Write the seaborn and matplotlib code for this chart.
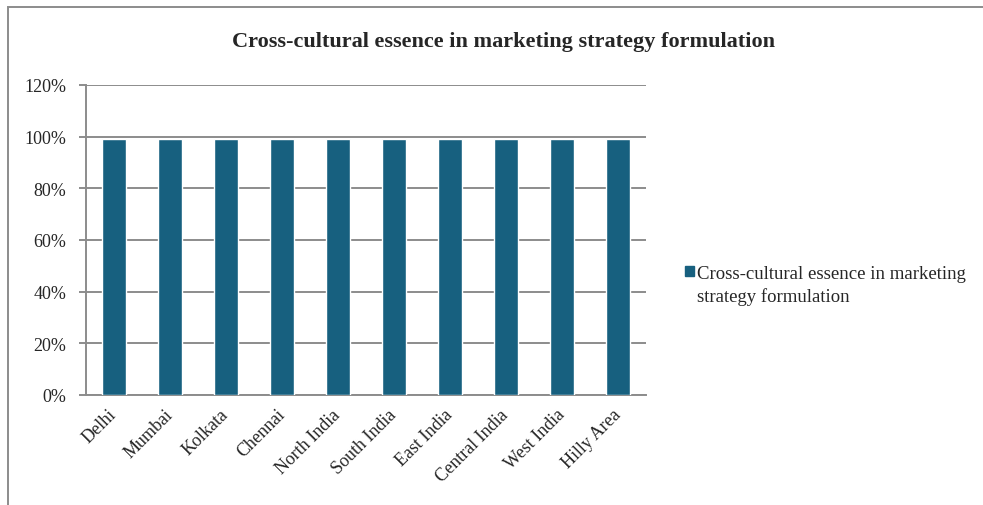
import matplotlib
matplotlib.use("Agg")
import matplotlib.pyplot as plt
import matplotlib.patches as mpatches
import seaborn as sns
import pandas as pd
import numpy as np

categories = ["Delhi", "Mumbai", "Kolkata", "Chennai", "North India", "South India",
              "East India", "Central India", "West India", "Hilly Area"]
values = [0.99, 0.99, 0.99, 0.99, 0.99, 0.99, 0.99, 0.99, 0.99, 0.99]
series_name = "Cross-cultural essence in marketing strategy formulation"
legend_lines = ["Cross-cultural essence in marketing", "strategy formulation"]
yticks = [0, 0.2, 0.4, 0.6, 0.8, 1.0, 1.2]
ytick_labels = ["0%", "20%", "40%", "60%", "80%", "100%", "120%"]

sns.set_style("white")
plt.rcParams['font.family'] = ['Liberation Serif', 'DejaVu Serif']

df = pd.DataFrame({"cat": categories, "val": values})
color = "#17607F"
gray = "#8c8c8c"

fig = plt.figure(figsize=(9.83, 5.06), dpi=100)
ax = fig.add_axes([86/983, 1-396/506, (646-86)/983, (396-86)/506])

sns.barplot(data=df, x="cat", y="val", color=color, width=0.43, ax=ax,
            saturation=1, zorder=3)

ax.set_ylim(0, 1.2)
ax.set_xlim(-0.5, len(categories) - 0.5)
ax.set_yticks(yticks)
ax.set_yticklabels(ytick_labels, fontsize=13)
ax.yaxis.grid(True, color=gray, linewidth=1.4, zorder=0)
ax.set_axisbelow(True)
ax.set_xlabel("")
ax.set_ylabel("")

# x ticks at category boundaries, labels at centers
ax.set_xticks(np.arange(len(categories)))
ax.set_xticklabels(categories, rotation=45, ha="right", va="center",
                   rotation_mode="anchor", fontsize=13)
ax.tick_params(axis="x", which="major", length=0, pad=12)
ax.set_xticks(np.arange(-0.5, len(categories), 1), minor=True)
ax.tick_params(axis="x", which="minor", length=5, width=1.4, color=gray, direction="out")
ax.tick_params(axis="y", length=5, width=1.4, color=gray, direction="out", pad=9, left=True)

for s in ["top", "right"]:
    ax.spines[s].set_visible(False)
for s in ["left", "bottom"]:
    ax.spines[s].set_color(gray)
    ax.spines[s].set_linewidth(1.4)

fig.text(503/983, 1-42/506, "Cross-cultural essence in marketing strategy formulation",
         ha="center", va="center", fontsize=16, fontweight="bold")

handles = [mpatches.Patch(color=color), mpatches.Patch(color="none")]
leg = fig.legend(handles=handles, labels=legend_lines, loc="center left",
                 bbox_to_anchor=(685/983, 1-286/506),
                 frameon=False, fontsize=13.5, handlelength=0.5, handleheight=0.5,
                 handletextpad=0.15, borderaxespad=0, borderpad=0, labelspacing=0.3)

border = mpatches.Rectangle((8/983, -0.02), 1.0, 1-8/506+0.02, transform=fig.transFigure,
                            fill=False, edgecolor=gray, linewidth=1.4)
fig.patches.append(border)

fig.savefig("out.png", dpi=100)
